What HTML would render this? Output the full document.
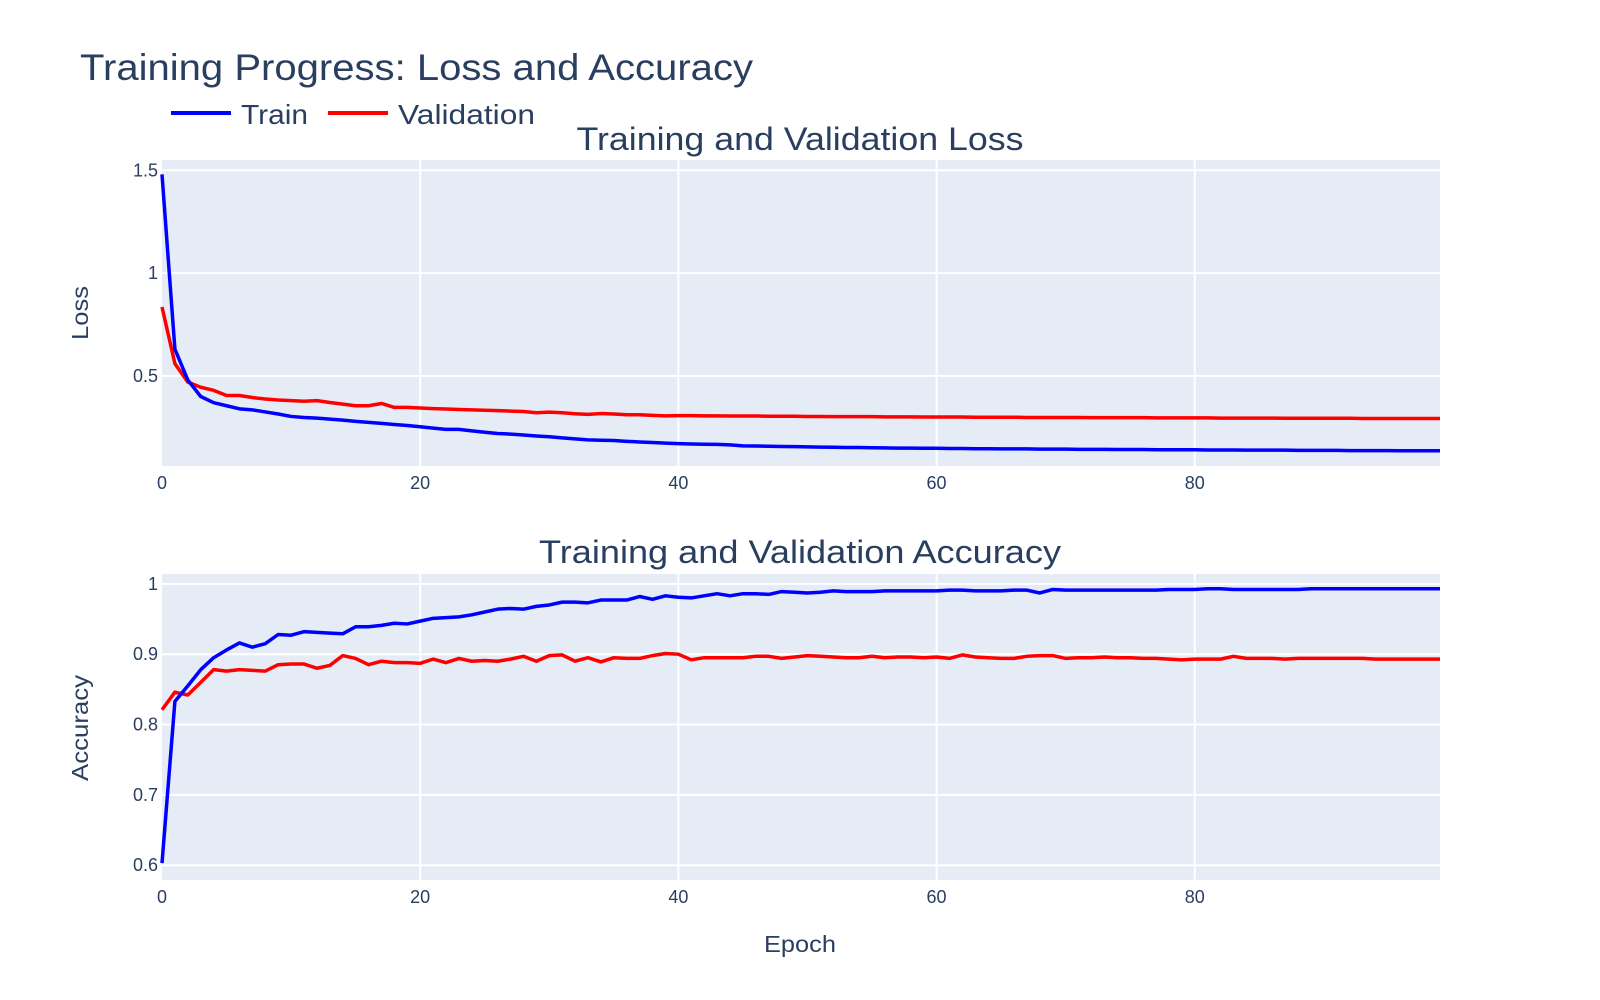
<!DOCTYPE html>
<html><head><meta charset="utf-8">
<style>
html,body{margin:0;padding:0;background:#fff;}
svg{display:block;font-family:"Liberation Sans",sans-serif;}
</style></head>
<body>
<svg id="chart" width="1600" height="1000" viewBox="0 0 1600 1000" xmlns="http://www.w3.org/2000/svg">
<text x="80" y="80" font-size="37" fill="#2a3f5f" textLength="673" lengthAdjust="spacingAndGlyphs">Training Progress: Loss and Accuracy</text>
<g>
<g>
<line x1="171" y1="113" x2="231" y2="113" stroke="#0000ff" stroke-width="4"/>
<text x="241" y="124" font-size="28" fill="#2a3f5f" textLength="67" lengthAdjust="spacingAndGlyphs">Train</text></g>
<g>
<line x1="328" y1="113" x2="388" y2="113" stroke="#ff0000" stroke-width="4"/>
<text x="398" y="124" font-size="28" fill="#2a3f5f" textLength="137" lengthAdjust="spacingAndGlyphs">Validation</text></g>
</g>
<text x="800" y="150" font-size="32" text-anchor="middle" fill="#2a3f5f" textLength="447" lengthAdjust="spacingAndGlyphs">Training and Validation Loss</text>
<text x="800" y="563" font-size="32" text-anchor="middle" fill="#2a3f5f" textLength="522" lengthAdjust="spacingAndGlyphs">Training and Validation Accuracy</text>
<text x="0" y="0" font-size="23" text-anchor="middle" fill="#2a3f5f" transform="translate(88,313) rotate(-90)" textLength="54" lengthAdjust="spacingAndGlyphs">Loss</text>
<text x="0" y="0" font-size="23" text-anchor="middle" fill="#2a3f5f" transform="translate(88,728) rotate(-90)" textLength="106" lengthAdjust="spacingAndGlyphs">Accuracy</text>
<text x="800" y="952" font-size="23" text-anchor="middle" fill="#2a3f5f" textLength="72" lengthAdjust="spacingAndGlyphs">Epoch</text>
<g id="plots"></g>
</svg>
<script>
const epochs = Array.from({length:100},(_, i)=>i);
const trainLoss = [1.48,0.63,0.48,0.40,0.37,0.355,0.34,0.335,0.325,0.315,0.303,0.298,0.295,0.29,0.285,0.279,0.274,0.269,0.264,0.259,
0.253,0.246,0.24,0.24,0.233,0.226,0.22,0.217,0.213,0.208,0.204,0.199,0.194,0.189,0.187,0.186,0.182,0.179,0.176,0.173,
0.171,0.169,0.168,0.167,0.165,0.160,0.159,0.158,0.157,0.156,0.155,0.154,0.153,0.152,0.152,0.151,0.150,0.149,0.149,0.148,
0.148,0.147,0.147,0.146,0.146,0.145,0.145,0.145,0.144,0.144,0.144,0.143,0.143,0.143,0.142,0.142,0.142,0.141,0.141,0.141,
0.141,0.140,0.140,0.140,0.139,0.139,0.139,0.139,0.138,0.138,0.138,0.138,0.137,0.137,0.137,0.137,0.136,0.136,0.136,0.136];
const valLoss = [0.835,0.56,0.47,0.445,0.43,0.405,0.405,0.395,0.388,0.383,0.38,0.377,0.38,0.371,0.363,0.355,0.355,0.366,0.347,0.347,
0.344,0.341,0.339,0.337,0.335,0.333,0.331,0.329,0.327,0.321,0.324,0.321,0.316,0.313,0.317,0.315,0.311,0.311,0.308,0.306,
0.307,0.307,0.306,0.306,0.305,0.305,0.305,0.304,0.304,0.304,0.303,0.303,0.302,0.302,0.302,0.302,0.301,0.301,0.301,0.300,
0.300,0.300,0.300,0.299,0.299,0.299,0.299,0.298,0.298,0.298,0.298,0.298,0.297,0.297,0.297,0.297,0.297,0.296,0.296,0.296,
0.296,0.296,0.295,0.295,0.295,0.295,0.295,0.294,0.294,0.294,0.294,0.294,0.294,0.293,0.293,0.293,0.293,0.293,0.293,0.293];
const trainAcc = [0.603,0.833,0.855,0.878,0.895,0.906,0.916,0.910,0.915,0.928,0.927,0.932,0.931,0.930,0.929,0.939,0.939,0.941,0.944,0.943,
0.947,0.951,0.952,0.953,0.956,0.960,0.964,0.965,0.964,0.968,0.970,0.974,0.974,0.973,0.977,0.977,0.977,0.982,0.978,0.983,
0.981,0.980,0.983,0.986,0.983,0.986,0.986,0.985,0.989,0.988,0.987,0.988,0.990,0.989,0.989,0.989,0.990,0.990,0.990,0.990,
0.990,0.991,0.991,0.990,0.990,0.990,0.991,0.991,0.987,0.992,0.991,0.991,0.991,0.991,0.991,0.991,0.991,0.991,0.992,0.992,
0.992,0.993,0.993,0.992,0.992,0.992,0.992,0.992,0.992,0.993,0.993,0.993,0.993,0.993,0.993,0.993,0.993,0.993,0.993,0.993];
const valAcc = [0.821,0.846,0.842,0.860,0.878,0.876,0.878,0.877,0.876,0.885,0.886,0.886,0.880,0.884,0.898,0.894,0.885,0.890,0.888,0.888,
0.887,0.893,0.888,0.894,0.890,0.891,0.890,0.893,0.897,0.890,0.898,0.899,0.890,0.895,0.889,0.895,0.894,0.894,0.898,0.901,
0.900,0.892,0.895,0.895,0.895,0.895,0.897,0.897,0.894,0.896,0.898,0.897,0.896,0.895,0.895,0.897,0.895,0.896,0.896,0.895,
0.896,0.894,0.899,0.896,0.895,0.894,0.894,0.897,0.898,0.898,0.894,0.895,0.895,0.896,0.895,0.895,0.894,0.894,0.893,0.892,
0.893,0.893,0.893,0.897,0.894,0.894,0.894,0.893,0.894,0.894,0.894,0.894,0.894,0.894,0.893,0.893,0.893,0.893,0.893,0.893];
const xTicks = [0,20,40,60,80];
const lossTicks = [0.5,1,1.5];
const lossTickLabels = ["0.5","1","1.5"];
const accTicks = [0.6,0.7,0.8,0.9,1];
const accTickLabels = ["0.6","0.7","0.8","0.9","1"];

const NS = "http://www.w3.org/2000/svg";
const plotsG = document.getElementById('plots');
const X0 = 162, XW = 1278, XMIN = 0, XMAX = 99;
function xScale(v){ return X0 + (v - XMIN) / (XMAX - XMIN) * XW; }
function mk(tag, attrs, parent){
  const e = document.createElementNS(NS, tag);
  for (const k in attrs) e.setAttribute(k, attrs[k]);
  parent.appendChild(e); return e;
}
function drawPanel(name, top, height, ymin, ymax, ticks, tickLabels, series){
  const yScale = v => top + height - (v - ymin) / (ymax - ymin) * height;
  const g = mk('g', {}, plotsG);
  
  
  const bg = mk('rect', {x:X0, y:top, width:XW, height:height, fill:'#e5ecf6'}, g);
  
  
  xTicks.forEach(t => {
    const x = xScale(t);
    if (t !== XMIN) {
      const gl = mk('line', {x1:x, x2:x, y1:top, y2:top+height, stroke:'#fff', 'stroke-width':2}, g);
      
      
    }
    const tl = mk('text', {x:x, y:top+height+23, 'font-size':18, 'text-anchor':'middle', fill:'#2a3f5f'}, g);
    
    
    tl.textContent = String(t);
  });
  ticks.forEach((t, i) => {
    const y = yScale(t);
    const gl = mk('line', {x1:X0, x2:X0+XW, y1:y, y2:y, stroke:'#fff', 'stroke-width':2}, g);
    
    
    const tl = mk('text', {x:X0-4, y:y+6, 'font-size':18, 'text-anchor':'end', fill:'#2a3f5f'}, g);
    
    
    tl.textContent = tickLabels[i];
  });
  series.forEach(s => {
    const d = s.values.map((v, i) => (i ? 'L' : 'M') + xScale(epochs[i]).toFixed(2) + ',' + yScale(v).toFixed(2)).join(' ');
    const p = mk('path', {d:d, fill:'none', stroke:s.color, 'stroke-width':3.5, 'stroke-linejoin':'round'}, g);
    
    
  });
}
drawPanel('loss', 160, 306, 0.062, 1.55, lossTicks, lossTickLabels,
  [{id:'validation', values:valLoss, color:'#ff0000'}, {id:'train', values:trainLoss, color:'#0000ff'}]);
drawPanel('accuracy', 574, 306, 0.579, 1.014, accTicks, accTickLabels,
  [{id:'validation', values:valAcc, color:'#ff0000'}, {id:'train', values:trainAcc, color:'#0000ff'}]);
</script>
</body></html>
